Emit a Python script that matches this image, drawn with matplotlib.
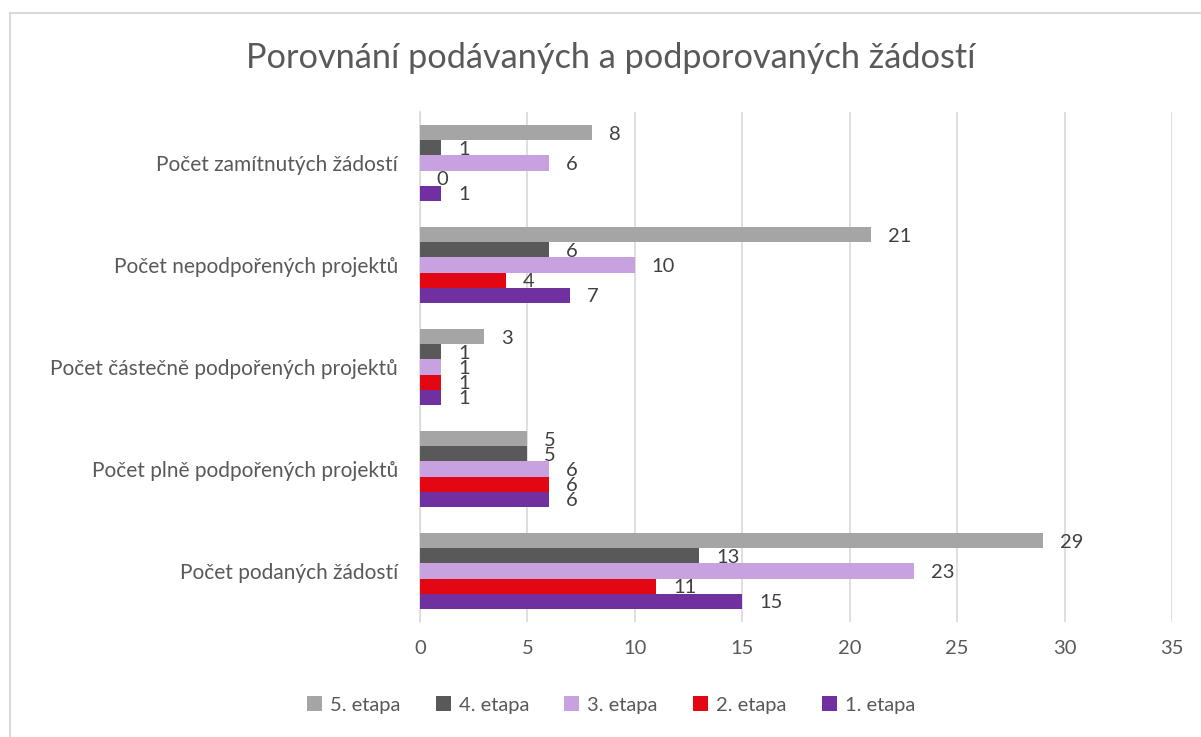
import matplotlib
matplotlib.use("Agg")
import matplotlib.pyplot as plt
from matplotlib.patches import Rectangle, Patch
import numpy as np

categories = [
    "Počet podaných žádostí",
    "Počet plně podpořených projektů",
    "Počet částečně podpořených projektů",
    "Počet nepodpořených projektů",
    "Počet zamítnutých žádostí",
]
series_names = ["1. etapa", "2. etapa", "3. etapa", "4. etapa", "5. etapa"]
etapa1 = [15, 6, 1, 7, 1]
etapa2 = [11, 6, 1, 4, 0]
etapa3 = [23, 6, 1, 10, 6]
etapa4 = [13, 5, 1, 6, 1]
etapa5 = [29, 5, 3, 21, 8]
series_values = [etapa1, etapa2, etapa3, etapa4, etapa5]
colors = ["#7030A0", "#E30613", "#C8A2E0", "#595959", "#A5A5A5"]
title = "Porovnání podávaných a podporovaných žádostí"
xticks = [0, 5, 10, 15, 20, 25, 30, 35]

FONT = ["Lato", "DejaVu Sans"]
plt.rcParams["font.family"] = FONT

W, H = 1201, 737
fig = plt.figure(figsize=(W / 100, H / 100), dpi=100)
ax = fig.add_axes([420 / W, 1 - 622 / H, (1172 - 420) / W, (622 - 112) / H])

# border (top and left visible)
fig.patches.append(Rectangle((9.5 / W, -0.05), 1.2, (1 - 12.5 / H) + 0.05,
                             transform=fig.transFigure, fill=False,
                             edgecolor="#D9D9D9", linewidth=1.5, zorder=0))

y = np.arange(len(categories))
h = 0.148
for i, (name, vals, c) in enumerate(zip(series_names, series_values, colors)):
    pos = y + (i - 2) * h
    bars = ax.barh(pos, vals, height=h, color=c, label=name, zorder=3)
    for b, v in zip(bars, vals):
        ax.annotate(str(v), (b.get_width(), b.get_y() + b.get_height() / 2),
                    xytext=(12, -1), textcoords="offset points",
                    ha="left", va="center", fontsize=14.5, color="#404040",
                    zorder=4)

ax.set_xlim(0, 35)
ax.set_ylim(-0.5, len(categories) - 0.5)
ax.set_xticks(xticks)
ax.set_xticklabels([str(t) for t in xticks], fontsize=14.5, color="#595959")
ax.set_yticks(y)
ax.set_yticklabels(categories, fontsize=15, color="#595959")
ax.tick_params(axis="both", length=0)
ax.tick_params(axis="x", pad=13)
ax.tick_params(axis="y", pad=16)
ax.grid(axis="x", color="#D9D9D9", linewidth=1.2, zorder=0)
for s in ["top", "right", "bottom"]:
    ax.spines[s].set_visible(False)
ax.spines["left"].set_color("#D9D9D9")
ax.spines["left"].set_linewidth(1.2)

fig.text(611 / W, 1 - 58 / H, title, ha="center", va="center",
         fontsize=24.7, color="#595959")

handles = [Patch(facecolor=colors[i], label=series_names[i]) for i in range(4, -1, -1)]
fig.legend(handles=handles, loc="center", bbox_to_anchor=(611 / W, 1 - 705 / H),
           ncol=5, frameon=False, fontsize=14.5, labelcolor="#595959",
           handlelength=0.75, handleheight=0.75, handletextpad=0.4, columnspacing=1.75)

fig.savefig("out.png", dpi=100)
